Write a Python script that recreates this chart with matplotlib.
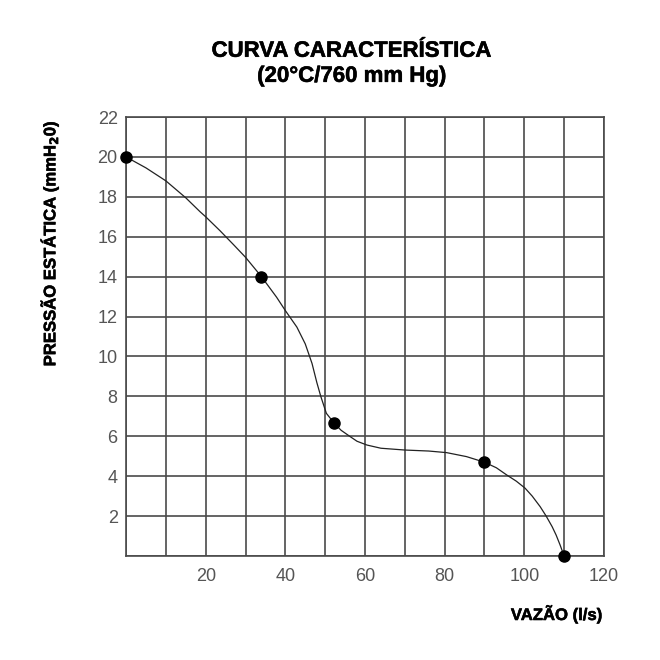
import numpy as np
import matplotlib
matplotlib.use("Agg")
import matplotlib.pyplot as plt
import matplotlib.patheffects as pe
from matplotlib.ticker import MultipleLocator, FuncFormatter

plt.rcParams['font.family'] = ['Liberation Sans', 'DejaVu Sans']

# curve (l/s, mmH2O)
curve_x = [0, 5, 10, 15, 18.6, 20, 23.6, 27, 30, 34, 37.8, 40, 42.9, 45,
           46.7, 47.9, 48.9, 50.3, 52.3, 54, 56.3, 58, 60.5, 64, 70, 76,
           80.5, 85.5, 90, 93, 95.6, 98, 100.2, 102, 104, 105.5, 107, 108,
           109, 110]
curve_y = [20, 19.45, 18.8, 17.95, 17.25, 17.0, 16.3, 15.6, 14.97, 14.0,
           12.97, 12.3, 11.47, 10.63, 9.65, 8.7, 8.0, 7.15, 6.65, 6.3, 5.98,
           5.75, 5.56, 5.4, 5.31, 5.26, 5.18, 4.98, 4.7, 4.42, 4.06, 3.75,
           3.4, 3.0, 2.47, 2.0, 1.47, 1.05, 0.55, 0.0]

# measured points
pts_x = [0, 34, 52.3, 90, 110]
pts_y = [20, 14, 6.65, 4.7, 0]

title1 = "CURVA CARACTERÍSTICA"
title2 = "(20°C/760 mm Hg)"
xlabel = "VAZÃO (l/s)"
ylabel = "PRESSÃO ESTÁTICA (mmH$_\\mathbf{2}$0)"

fig = plt.figure(figsize=(6.6, 6.6), dpi=100)
ax = fig.add_axes([0.191, 0.1576, 0.724, 0.6651])

ax.set_xlim(0, 120)
ax.set_ylim(0, 22)
ax.xaxis.set_major_locator(MultipleLocator(10))
ax.yaxis.set_major_locator(MultipleLocator(2))
ax.xaxis.set_major_formatter(FuncFormatter(lambda v, p: "%d" % v if v > 0 and int(v) % 20 == 0 else ""))
ax.yaxis.set_major_formatter(FuncFormatter(lambda v, p: "%d" % v if v > 0 else ""))
ax.tick_params(length=0, labelsize=13, labelcolor='#555555')
ax.tick_params(axis='x', pad=9)
ax.tick_params(axis='y', pad=6)

ax.grid(True, color='#4a4a4a', linewidth=1.2)
for s in ax.spines.values():
    s.set_color('#4a4a4a')
    s.set_linewidth(1.2)

ax.plot(curve_x, curve_y, color='#222222', linewidth=0.9, zorder=3)
ax.plot(pts_x, pts_y, 'o', color='black', markersize=8, zorder=4, clip_on=False)

heavy = [pe.withStroke(linewidth=0.4, foreground='black')]
fig.text(0.533, 0.914, title1, fontsize=16, fontweight='bold', ha='center',
         va='baseline', path_effects=heavy)
fig.text(0.533, 0.876, title2, fontsize=16, fontweight='bold', ha='center',
         va='baseline', path_effects=heavy)
fig.text(0.843, 0.0606, xlabel, fontsize=12, fontweight='bold', ha='center',
         va='baseline', path_effects=heavy)
fig.text(0.075, 0.631, ylabel, fontsize=12, fontweight='bold', ha='center',
         va='center', rotation=90, path_effects=heavy)

fig.savefig("out.png", dpi=100)
